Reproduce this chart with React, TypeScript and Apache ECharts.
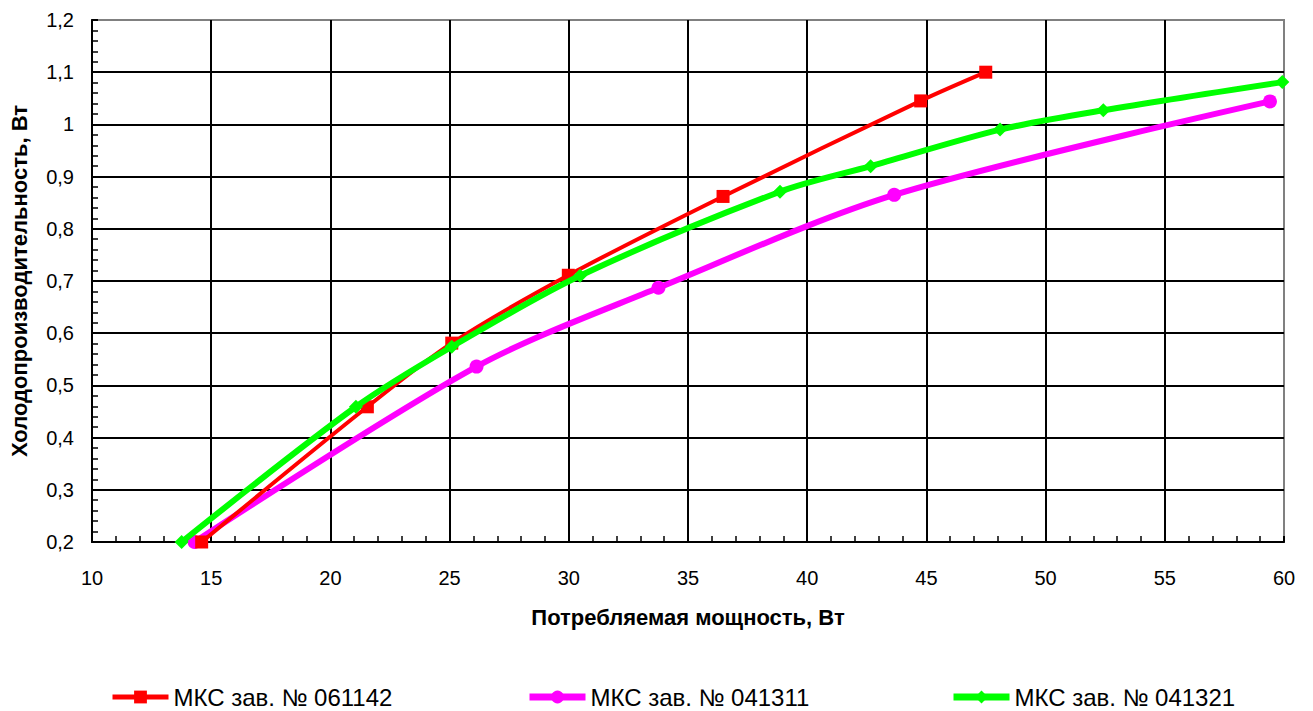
import React, { useEffect, useRef } from "react";
import * as echarts from "echarts";

const seriesNames = ["МКС зав. № 061142", "МКС зав. № 041311", "МКС зав. № 041321"];

const redX = [14.6, 21.55, 25.09, 29.98, 36.47, 44.76, 47.49];
const redY = [0.2, 0.459, 0.581, 0.711, 0.862, 1.045, 1.1];

const magentaX = [14.3, 26.13, 33.76, 43.65, 59.41];
const magentaY = [0.2, 0.536, 0.687, 0.865, 1.044];

const greenX = [13.76, 21.07, 25.09, 30.47, 38.86, 42.66, 48.09, 52.42, 59.93];
const greenY = [0.2, 0.459, 0.574, 0.71, 0.871, 0.92, 0.99, 1.027, 1.081];

const colors = ["#ff0000", "#ff00ff", "#00ff00"];
const lineWidths = [4, 6, 6];

const pairs = (xs: number[], ys: number[]) => xs.map((x, i) => [x, ys[i]]);

export default function App() {
  const ref = useRef<HTMLDivElement>(null);
  useEffect(() => {
    if (!ref.current) return;
    const chart = echarts.init(ref.current, undefined, { renderer: "svg" });
    const font = "Liberation Sans, Arial, sans-serif";
    const legendBase = {
      top: 680,
      itemWidth: 56,
      itemHeight: 16,
      itemGap: 5,
      textStyle: { fontFamily: font, fontSize: 24, color: "#000" },
    };
    chart.setOption({
      animation: false,
      backgroundColor: "#fff",
      grid: {
        left: 92,
        right: 29,
        top: 20,
        bottom: 169,
        show: true,
        borderColor: "#808080",
        borderWidth: 2,
      },
      legend: [0, 1, 2].map((i) => ({
        ...legendBase,
        left: [105, 521, 945][i],
        data: [seriesNames[i]],
        lineStyle: { width: lineWidths[i] + 1 },
      })),
      xAxis: {
        type: "value",
        min: 10,
        max: 60,
        interval: 5,
        name: "Потребляемая мощность, Вт",
        nameLocation: "middle",
        nameGap: 64,
        nameTextStyle: { fontFamily: font, fontSize: 22, fontWeight: "bold", color: "#000" },
        axisLine: { show: true, lineStyle: { color: "#000", width: 2 } },
        axisTick: { show: true, inside: true, length: 6, lineStyle: { color: "#000", width: 2 } },
        minorTick: { show: true, splitNumber: 5, length: 6, lineStyle: { color: "#000", width: 1.5 } },
        axisLabel: { fontFamily: font, fontSize: 20, color: "#000", margin: 26 },
        splitLine: { show: true, showMinLine: false, showMaxLine: false, lineStyle: { color: "#000", width: 2 } },
      },
      yAxis: {
        type: "value",
        min: 0.2,
        max: 1.2,
        interval: 0.1,
        name: "Холодопроизводительность, Вт",
        nameLocation: "middle",
        nameGap: 62,
        nameTextStyle: { fontFamily: font, fontSize: 22, fontWeight: "bold", color: "#000" },
        axisLine: { show: true, lineStyle: { color: "#000", width: 2 } },
        axisTick: { show: true, inside: true, length: 6, lineStyle: { color: "#000", width: 2 } },
        minorTick: { show: true, splitNumber: 5, length: 6, lineStyle: { color: "#000", width: 1.5 } },
        axisLabel: {
          fontFamily: font,
          fontSize: 20,
          color: "#000",
          margin: 18,
          formatter: (v: number) => String(Number(v.toFixed(1))).replace(".", ","),
        },
        splitLine: { show: true, showMinLine: false, showMaxLine: false, lineStyle: { color: "#000", width: 2 } },
      },
      series: [
        {
          name: seriesNames[0],
          type: "line",
          data: pairs(redX, redY),
          smooth: 0.3,
          symbol: "rect",
          symbolSize: 13,
          color: colors[0],
          lineStyle: { width: lineWidths[0], color: colors[0] },
          itemStyle: { color: colors[0] },
          z: 3,
        },
        {
          name: seriesNames[1],
          type: "line",
          data: pairs(magentaX, magentaY),
          smooth: 0.3,
          symbol: "circle",
          symbolSize: 14,
          color: colors[1],
          lineStyle: { width: lineWidths[1], color: colors[1] },
          itemStyle: { color: colors[1] },
          z: 2,
        },
        {
          name: seriesNames[2],
          type: "line",
          data: pairs(greenX, greenY),
          smooth: 0.3,
          symbol: "diamond",
          symbolSize: 14,
          color: colors[2],
          lineStyle: { width: lineWidths[2], color: colors[2] },
          itemStyle: { color: colors[2] },
          z: 4,
        },
      ],
    });
    return () => chart.dispose();
  }, []);
  return <div ref={ref} style={{ width: 1313, height: 711, position: "absolute", left: 0, top: 0 }} />;
}
